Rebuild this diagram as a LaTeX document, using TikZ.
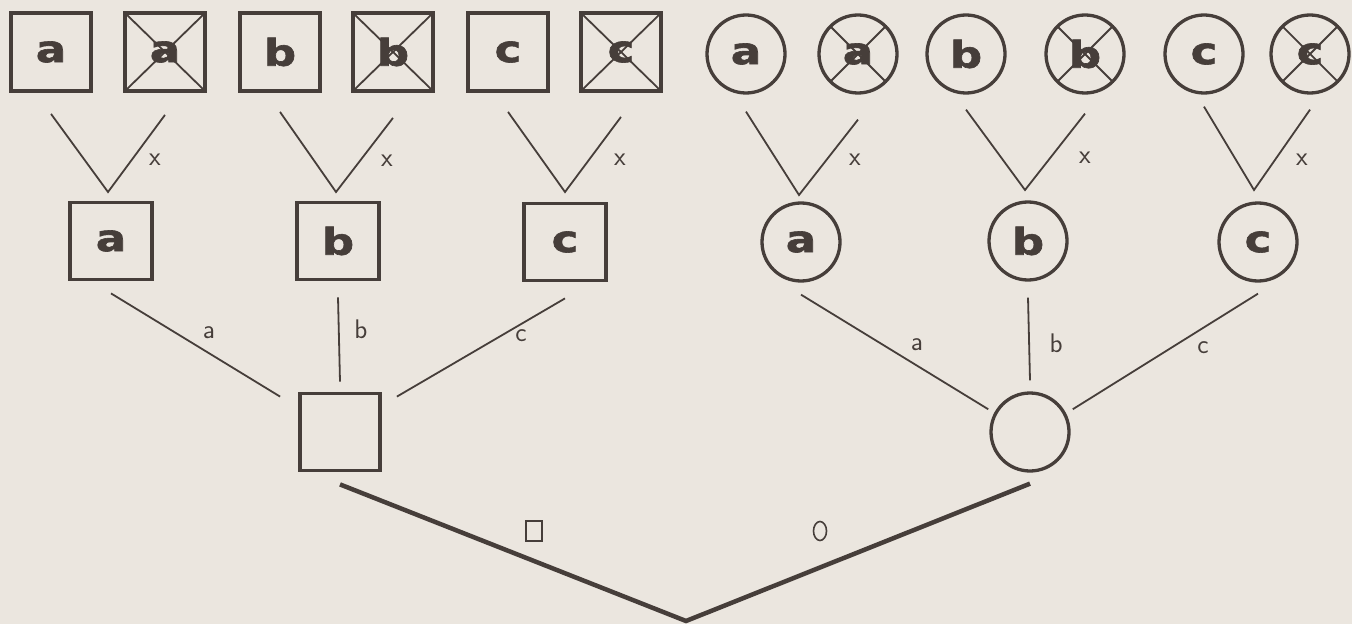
\documentclass[tikz,border=0pt]{standalone}
\usepackage{fontspec}
\newfontfamily\letterfont{DejaVu Sans}[BoldFeatures={FakeBold=1.6}]
\usetikzlibrary{shapes.geometric}
\definecolor{ink}{RGB}{70,62,58}
\definecolor{paper}{RGB}{235,230,223}
\newcommand{\Lt}[1]{{\letterfont\bfseries\fontsize{37}{37}\selectfont\raisebox{-1bp}{\scalebox{1.22}[1]{#1}}}}
\newcommand{\Hw}[1]{{\sffamily\fontsize{27}{27}\selectfont #1}}
\begin{document}
\begin{tikzpicture}[x=1bp,y=-1bp,
  every node/.style={text=ink},
  sqn/.style={rectangle, draw=ink, line width=3.8bp, minimum width=80bp, minimum height=78bp, inner sep=0pt},
  crn/.style={circle, draw=ink, line width=3.3bp, minimum size=78bp, inner sep=0pt},
  crossed/.style={path picture={\draw[ink, line width=1.8bp]
      (path picture bounding box.north west) -- (path picture bounding box.south east)
      (path picture bounding box.north east) -- (path picture bounding box.south west);}},
  vline/.style={draw=ink, line width=1.8bp},
  mline/.style={draw=ink, line width=1.8bp},
  rootline/.style={draw=ink, line width=4.5bp},
  lbl/.style={inner sep=0pt, font=\sffamily},
]
\useasboundingbox (0,0) rectangle (1352,624);
\fill[paper] (0,0) rectangle (1352,624);

% top row: squares
\node[sqn] (tsa)  at (51,52)  {\Lt{a}};
\node[sqn, crossed] (tsxa) at (165,52) {\Lt{a}};
\node[sqn] (tsb)  at (280,52) {\Lt{b}};
\node[sqn, crossed] (tsxb) at (393,52) {\Lt{b}};
\node[sqn] (tsc)  at (508,52) {\Lt{c}};
\node[sqn, crossed] (tsxc) at (621,52) {\Lt{c}};
% top row: circles
\node[crn] (tca)  at (746,54)  {\Lt{a}};
\node[crn, crossed] (tcxa) at (858,54) {\Lt{a}};
\node[crn] (tcb)  at (966,54)  {\Lt{b}};
\node[crn, crossed] (tcxb) at (1085,54) {\Lt{b}};
\node[crn] (tcc)  at (1204,54) {\Lt{c}};
\node[crn, crossed] (tcxc) at (1310,54) {\Lt{c}};

% middle row
\node[sqn, minimum width=82bp, minimum height=77bp] (msa) at (111,241) {\Lt{a}};
\node[sqn, minimum width=82bp, minimum height=77bp] (msb) at (338,241) {\Lt{b}};
\node[sqn, minimum width=82bp, minimum height=77bp] (msc) at (565,242) {\Lt{c}};
\node[crn] (mca) at (801,242) {\Lt{a}};
\node[crn] (mcb) at (1028,241) {\Lt{b}};
\node[crn] (mcc) at (1258,242) {\Lt{c}};

% bottom row
\node[sqn, minimum width=80bp, minimum height=77bp] (bs) at (340,432) {};
\node[crn] (bc) at (1030,432) {};
\coordinate (root) at (686,621);

% V vertices
\coordinate (va)  at (108,192);
\coordinate (vb)  at (336,192);
\coordinate (vc)  at (565,192);
\coordinate (vca) at (799,195);
\coordinate (vcb) at (1025,190);
\coordinate (vcc) at (1254,190);

% V connectors
\draw[vline] ([yshift=-21bp]tsa.south) -- (va) -- ([yshift=-22bp]tsxa.south);
\draw[vline] ([yshift=-19bp]tsb.south) -- (vb) -- ([yshift=-25bp]tsxb.south);
\draw[vline] ([yshift=-19bp]tsc.south) -- (vc) -- ([yshift=-24bp]tsxc.south);
\draw[vline] ([yshift=-17bp]tca.south) -- (vca) -- ([yshift=-25bp]tcxa.south);
\draw[vline] ([yshift=-15bp]tcb.south) -- (vcb) -- ([yshift=-19bp]tcxb.south);
\draw[vline] ([yshift=-12bp]tcc.south) -- (vcc) -- ([yshift=-15bp]tcxc.south);

\node[lbl] (xa)  at (155,160)  {\Hw{x}};
\node[lbl] (xb)  at (387,161)  {\Hw{x}};
\node[lbl] (xc)  at (620,160)  {\Hw{x}};
\node[lbl] (xca) at (855,160)  {\Hw{x}};
\node[lbl] (xcb) at (1085,158) {\Hw{x}};
\node[lbl] (xcc) at (1302,160) {\Hw{x}};

% middle to bottom, squares
\draw[mline] ([yshift=-12bp]msa.south) -- ([shift={(-18bp,-5bp)}]bs.north west);
\draw[mline] ([yshift=-16bp]msb.south) -- ([yshift=10bp]bs.north);
\draw[mline] ([yshift=-16bp]msc.south) -- ([shift={(15bp,-5bp)}]bs.north east);
\node[lbl] (la) at (209,333) {\Hw{a}};
\node[lbl] (lb) at (361,329) {\Hw{b}};
\node[lbl] (lc) at (521,336) {\Hw{c}};

% middle to bottom, circles
\draw[mline] ([yshift=-12bp]mca.south) -- ([shift={(-13bp,-6bp)}]bc.north west);
\draw[mline] ([yshift=-16bp]mcb.south) -- ([yshift=11bp]bc.north);
\draw[mline] ([yshift=-11bp]mcc.south) -- ([shift={(14bp,-6bp)}]bc.north east);
\node[lbl] (lca) at (917,345) {\Hw{a}};
\node[lbl] (lcb) at (1056,343) {\Hw{b}};
\node[lbl] (lcc) at (1203,348) {\Hw{c}};

% root connectors
\draw[rootline] ([yshift=-12bp]bs.south) -- (root) -- ([yshift=-11bp]bc.south);
\node[rectangle, draw=ink, line width=1.6bp, minimum width=16bp, minimum height=20bp, inner sep=0pt] (lsq) at (534,531) {};
\node[ellipse, draw=ink, line width=1.6bp, minimum width=13bp, minimum height=19bp, inner sep=0pt] (lci) at (820,531) {};
\end{tikzpicture}
\end{document}
